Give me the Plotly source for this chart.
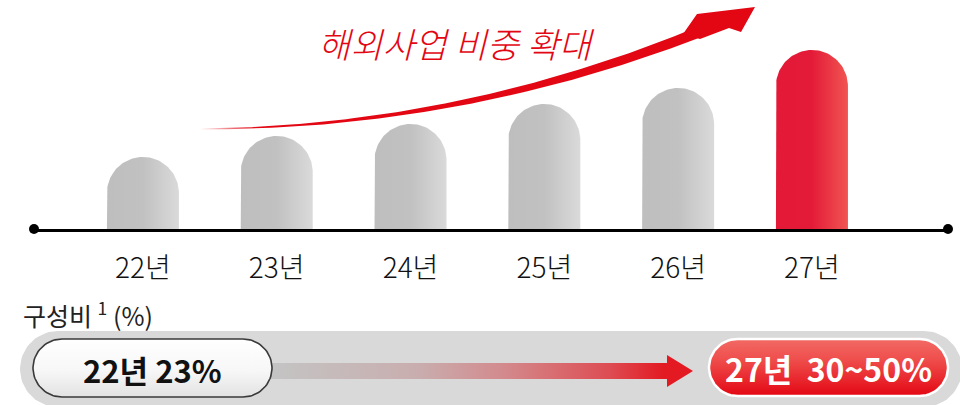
import numpy as np
import plotly.graph_objects as go

# ---------------- data ----------------
categories = ["22년", "23년", "24년", "25년", "26년", "27년"]
values = [72, 93, 105, 125, 141, 179]
highlight = [False, False, False, False, False, True]
trend_text = "해외사업 비중 확대"
share_label = "구성비 <sup>1</sup> (%)"
start_text = "22년 23%"
end_text = "27년\u00a0\u00a030~50%"

# ---------------- layout constants ----------------
W, H = 960, 405
PLOT_L, PLOT_R = 34, 948
BASE_Y = 229
X_RANGE = [-0.814, 6.017]
Y_RANGE = [0, 229]
BAR_W_PX = 72
FONT = "Noto Sans CJK KR"
RED = "#e30613"

gray_scale = [[0, "#bebebe"], [0.5, "#c1c1c1"], [1, "#dadada"]]
red_scale = [[0, "#e31937"], [0.5, "#e41b38"], [1, "#f05552"]]

px_per_x = (PLOT_R - PLOT_L) / (X_RANGE[1] - X_RANGE[0])
px_per_y = BASE_Y / (Y_RANGE[1] - Y_RANGE[0])
half_w = BAR_W_PX / 2 / px_per_x
r_y = BAR_W_PX / 2 / px_per_y

fig = go.Figure()

# ---------------- bars (rounded tops) ----------------
theta = np.linspace(np.pi, 0, 60)
for i, (v, hl) in enumerate(zip(values, highlight)):
    xs = [i - half_w, i - half_w] + list(i + half_w * np.cos(theta)) + [i + half_w, i + half_w]
    ys = [0, v - r_y] + list(v - r_y + r_y * np.sin(theta)) + [v - r_y, 0]
    fig.add_trace(go.Scatter(
        x=xs, y=ys, mode="lines", line=dict(width=0), fill="toself",
        fillgradient=dict(type="horizontal", colorscale=red_scale if hl else gray_scale),
        hoverinfo="skip", showlegend=False, xaxis="x", yaxis="y"))


# ---------------- decorations (pixel axes x2/y2) ----------------
def pill(x0, x1, y0, y1):
    r = (y1 - y0) / 2
    yc = (y0 + y1) / 2
    a1 = np.linspace(-np.pi / 2, np.pi / 2, 40)
    a2 = np.linspace(np.pi / 2, 3 * np.pi / 2, 40)
    xs = list(x1 - r + r * np.cos(a1)) + list(x0 + r + r * np.cos(a2))
    ys = list(yc + r * np.sin(a1)) + list(yc + r * np.sin(a2))
    return xs + [xs[0]], ys + [ys[0]]


def deco(xs, ys, **kw):
    fig.add_trace(go.Scatter(x=xs, y=ys, xaxis="x2", yaxis="y2", hoverinfo="skip",
                             showlegend=False, **kw))


# gray panel
px_, py_ = pill(20, 962, 331, 407)
deco(px_, py_, mode="lines", line=dict(width=0), fill="toself", fillcolor="#d9d9d9")

# gradient arrow
ax = [255, 667, 667, 693, 667, 667, 255, 255]
ay = [363, 363, 355, 371, 387, 379, 379, 363]
deco(ax, ay, mode="lines", line=dict(width=0), fill="toself",
     fillgradient=dict(type="horizontal", start=272, stop=693,
                       colorscale=[[0, "#c4c4c4"], [0.35, "#c9adae"], [0.55, "#d38a8d"],
                                   [0.8, "#dd4d53"], [0.93, "#e31a22"], [1, "#e31a22"]]))

# white pill
wx, wy = pill(33, 272, 339, 397)
deco(wx, wy, mode="lines", line=dict(width=1.6, color="#3a3a3a"), fill="toself",
     fillgradient=dict(type="vertical", start=339, stop=397,
                       colorscale=[[0, "#ffffff"], [0.55, "#f7f7f7"], [1, "#e2e2e2"]]))

# red pill
rx, ry = pill(709, 948, 339, 396)
deco(rx, ry, mode="lines", line=dict(width=2.5, color="#ffffff"), fill="toself",
     fillgradient=dict(type="vertical", start=339, stop=396,
                       colorscale=[[0, "#f26a65"], [0.35, "#ef4f4d"], [0.75, "#e8232a"], [1, "#e30613"]]))

# curved tapered arrow
P0, P1, P2, P3 = map(np.array, [(202, 129), (400, 128), (570, 85), (712, 27)])
t = np.linspace(0, 1, 120)[:, None]
B = (1 - t) ** 3 * P0 + 3 * (1 - t) ** 2 * t * P1 + 3 * (1 - t) * t ** 2 * P2 + t ** 3 * P3
D = 3 * (1 - t) ** 2 * (P1 - P0) + 6 * (1 - t) * t * (P2 - P1) + 3 * t ** 2 * (P3 - P2)
D = D / np.linalg.norm(D, axis=1, keepdims=True)
N = np.column_stack([-D[:, 1], D[:, 0]])
hw = (0.4 + 5.2 * t[:, 0] ** 1.1)[:, None]
top = B - N * hw
bot = B + N * hw
cx = list(top[:, 0]) + list(bot[::-1, 0]) + [top[0, 0]]
cy = list(top[:, 1]) + list(bot[::-1, 1]) + [top[0, 1]]
deco(cx, cy, mode="lines", line=dict(width=0), fill="toself",
     fillgradient=dict(type="horizontal", start=202, stop=755,
                       colorscale=[[0, "rgba(227,6,19,0.05)"], [0.1, "rgba(227,6,19,1)"], [1, "rgba(227,6,19,1)"]]))
hx = [683, 697, 755, 741, 729, 715, 700, 683]
hy = [34, 14, 7, 32, 28, 33, 39, 34]
deco(hx, hy, mode="lines", line=dict(width=0), fill="toself", fillcolor=RED)

# axis end dots
deco([PLOT_L, PLOT_R], [BASE_Y, BASE_Y], mode="markers",
     marker=dict(size=10, color="#000000"))

# ---------------- text ----------------
annotations = [
    dict(x=456, y=42, text=trend_text, font=dict(family=FONT, size=35, color=RED, style="italic", weight=300)),
    dict(x=21, y=314, text=share_label, xanchor="left",
         font=dict(family=FONT, size=25, color="#222222")),
    dict(x=152, y=369, text=start_text, font=dict(family=FONT, size=31, color="#111111", weight="bold")),
    dict(x=828, y=368, text=end_text, font=dict(family=FONT, size=32, color="#ffffff", weight="bold")),
]
for a in annotations:
    a.update(xref="x2", yref="y2", showarrow=False)
    a.setdefault("xanchor", "center")
    a["yanchor"] = "middle"

fig.update_layout(
    width=W, height=H, margin=dict(l=0, r=0, t=0, b=0),
    paper_bgcolor="white", plot_bgcolor="rgba(0,0,0,0)",
    showlegend=False, annotations=annotations,
    xaxis=dict(domain=[PLOT_L / W, PLOT_R / W], range=X_RANGE, showgrid=False, zeroline=False,
               showline=True, linecolor="#000000", linewidth=2.5,
               tickmode="array", tickvals=list(range(len(categories))), ticktext=categories,
               ticks="outside", ticklen=13, tickcolor="rgba(0,0,0,0)",
               tickfont=dict(family=FONT, size=28, color="#111111", weight=300),
               fixedrange=True),
    yaxis=dict(domain=[(H - BASE_Y) / H, 1], range=Y_RANGE, visible=False, fixedrange=True),
    xaxis2=dict(domain=[0, 1], range=[0, W], visible=False, anchor="y2", fixedrange=True),
    yaxis2=dict(domain=[0, 1], range=[H, 0], visible=False, anchor="x2", fixedrange=True),
)

fig.write_html("out.html", post_script="document.body.style.margin='0px';",
               config={"displayModeBar": False})
